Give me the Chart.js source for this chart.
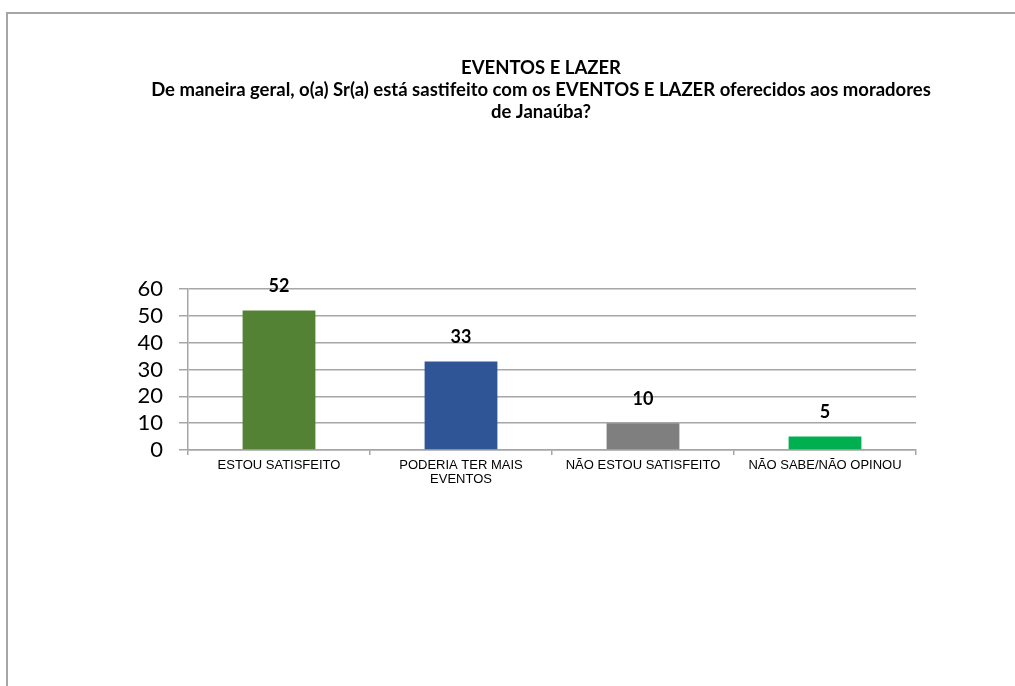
<!DOCTYPE html>
<html>
<head>
<meta charset="utf-8">
<script src="https://cdn.jsdelivr.net/npm/chart.js@4"></script>
<style>
  html, body { margin: 0; padding: 0; background: #fff; overflow: hidden; }
  #moldura { position: absolute; left: 6px; top: 12px; width: 1100px; height: 800px;
    border-left: 2px solid #a6a6a6; border-top: 2px solid #a6a6a6; }
  #grafico { position: absolute; left: 0; top: 0; }
</style>
</head>
<body>
<div id="moldura"></div>
<canvas id="grafico" width="1015" height="686"></canvas>
<script>
const categorias = ["ESTOU SATISFEITO", ["PODERIA TER MAIS", "EVENTOS"], "NÃO ESTOU SATISFEITO", "NÃO SABE/NÃO OPINOU"];
const valores = [52, 33, 10, 5];
const cores = ["#548235", "#2f5597", "#7f7f7f", "#00b050"];
const titulo = [
  "EVENTOS E LAZER",
  "De maneira geral, o(a) Sr(a) está sastifeito com os EVENTOS E LAZER oferecidos aos moradores",
  "de Janaúba?"
];

// rótulos de valor em cima das barras
const rotulos = {
  id: "rotulos",
  afterDatasetsDraw(chart) {
    const ctx = chart.ctx;
    const meta = chart.getDatasetMeta(0);
    ctx.save();
    ctx.font = "bold 18px Lato";
    ctx.fillStyle = "#000";
    ctx.textAlign = "center";
    ctx.textBaseline = "middle";
    meta.data.forEach(function (barra, i) {
      ctx.fillText(valores[i], barra.x, barra.y - 24);
    });
    ctx.restore();
  }
};

new Chart(document.querySelector("#grafico").getContext("2d"), {
  type: "bar",
  data: {
    labels: categorias,
    datasets: [
      {
        data: valores,
        backgroundColor: cores,
        borderWidth: 0,
        barPercentage: 0.4,
        categoryPercentage: 1,
      },
    ],
  },
  options: {
    responsive: false,
    animation: false,
    layout: {
      padding: { left: 67, right: 0, top: 0, bottom: 196 },
    },
    plugins: {
      legend: { display: false },
      tooltip: { enabled: false },
      title: {
        display: true,
        text: titulo,
        color: "#000",
        font: { family: "Lato", size: 18.5, weight: "bold", lineHeight: 1.19 },
        padding: { top: 57, bottom: 166 },
      },
    },
    scales: {
      x: {
        afterFit: function (scale) { scale.height = 40; },
        grid: {
          offset: true,
          drawOnChartArea: false,
          drawTicks: true,
          tickLength: 5,
          color: "#a6a6a6",
          lineWidth: 1.5,
        },
        border: { color: "#a6a6a6", width: 1.5 },
        ticks: {
          color: "#000",
          font: { family: "Liberation Sans", size: 13, lineHeight: 1.03 },
          padding: 4,
          maxRotation: 0,
          autoSkip: false,
        },
      },
      y: {
        min: 0,
        max: 60,
        afterFit: function (scale) { scale.width = 121; },
        grid: {
          color: "#a6a6a6",
          lineWidth: 1.5,
          tickLength: 9,
        },
        border: { color: "#a6a6a6", width: 1.5 },
        ticks: {
          stepSize: 10,
          autoSkip: false,
          color: "#000",
          font: { family: "Lato", size: 22 },
          padding: 16,
        },
      },
      // eixo vazio à direita só para deixar espaço
      y2: {
        position: "right",
        min: 0,
        max: 60,
        afterFit: function (scale) { scale.width = 99; },
        grid: { display: false },
        border: { display: false },
        ticks: { display: false },
      },
    },
  },
  plugins: [rotulos],
});
</script>
</body>
</html>
